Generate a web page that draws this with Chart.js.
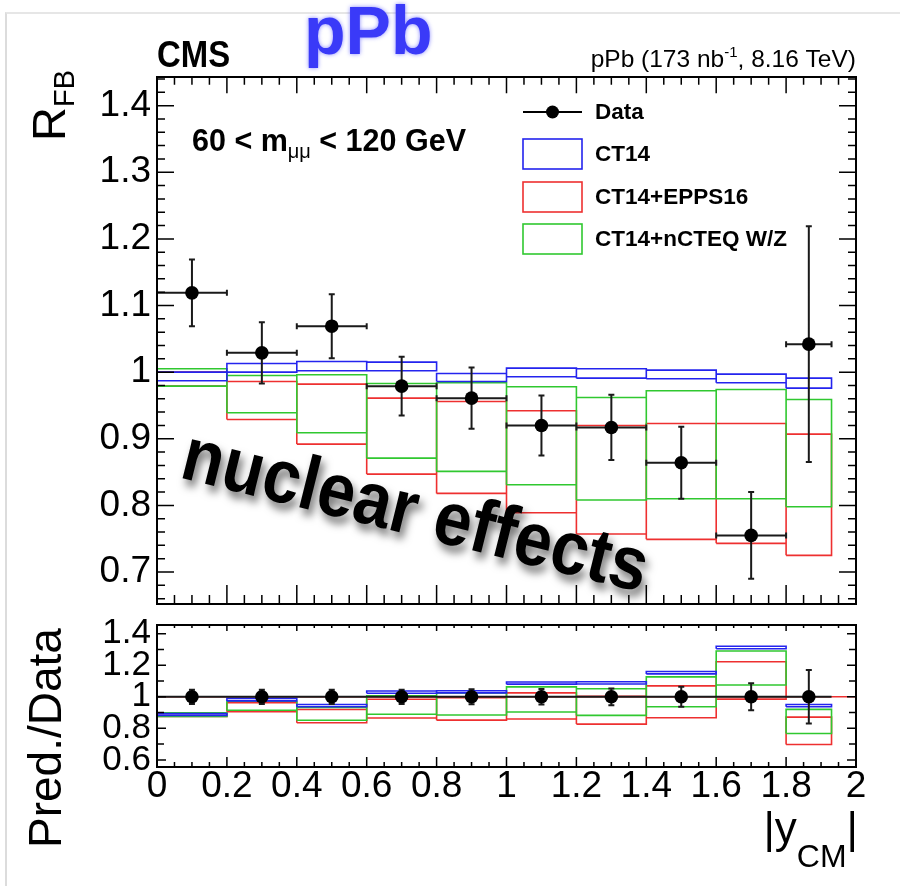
<!DOCTYPE html>
<html>
<head>
<meta charset="utf-8">
<script src="https://cdn.jsdelivr.net/npm/chart.js@4.4.1/dist/chart.umd.min.js"></script>
<style>
  html, body { margin: 0; padding: 0; background: #fff; }
  #wrap { position: relative; width: 900px; height: 886px; overflow: hidden; }
  #wrap canvas { position: absolute; left: 0; top: 0; }
  .edge { position: absolute; left: 5px; top: 12px; width: 900px; height: 900px;
          border-left: 2px solid #dcdcdc; border-top: 2px solid #e6e6e6; }
</style>
</head>
<body>
<div id="wrap">
  <div class="edge"></div>
  <canvas id="upper" width="900" height="886"></canvas>
  <canvas id="lower" width="900" height="886"></canvas>
</div>
<script>
// bins in |y_CM|
const binLo = [0.0, 0.2, 0.4, 0.6, 0.8, 1.0, 1.2, 1.4, 1.6, 1.8];
const binHi = [0.2, 0.4, 0.6, 0.8, 1.0, 1.2, 1.4, 1.6, 1.8, 1.93];
const dataX = [0.1, 0.3, 0.5, 0.7, 0.9, 1.1, 1.3, 1.5, 1.7, 1.865];

// R_FB data
const dataRFB = [1.119, 1.029, 1.069, 0.979, 0.961, 0.920, 0.917, 0.864, 0.755, 1.042];
const dataErr = [0.050, 0.046, 0.048, 0.044, 0.046, 0.045, 0.049, 0.054, 0.065, 0.177];

// theory bands (low / high edge)
const ct14Lo  = [0.987, 1.000, 1.002, 1.002, 0.986, 0.993, 0.991, 0.990, 0.984, 0.976];
const ct14Hi  = [1.000, 1.013, 1.016, 1.015, 0.998, 1.006, 1.005, 1.003, 0.997, 0.991];
const eppsLo  = [0.979, 0.929, 0.892, 0.847, 0.818, 0.789, 0.757, 0.749, 0.743, 0.725];
const eppsHi  = [1.000, 0.986, 0.982, 0.961, 0.956, 0.942, 0.920, 0.923, 0.923, 0.907];
const ncteqLo = [0.979, 0.939, 0.909, 0.871, 0.851, 0.831, 0.808, 0.810, 0.810, 0.798];
const ncteqHi = [1.005, 0.995, 0.996, 0.983, 0.984, 0.978, 0.962, 0.972, 0.974, 0.959];

// Pred./Data panel
const ratioData   = [1, 1, 1, 1, 1, 1, 1, 1, 1, 1];
const ratioErr    = [0.045, 0.045, 0.045, 0.045, 0.048, 0.049, 0.053, 0.063, 0.086, 0.170];
const rCt14Lo  = [0.882, 0.974, 0.937, 1.022, 1.025, 1.080, 1.081, 1.145, 1.304, 0.937];
const rCt14Hi  = [0.894, 0.990, 0.951, 1.037, 1.038, 1.094, 1.095, 1.160, 1.320, 0.951];
const rEppsLo  = [0.875, 0.905, 0.835, 0.866, 0.852, 0.859, 0.827, 0.867, 0.985, 0.698];
const rEppsHi  = [0.894, 0.962, 0.919, 0.984, 0.994, 1.025, 1.003, 1.069, 1.222, 0.871];
const rNcteqLo = [0.875, 0.915, 0.851, 0.889, 0.885, 0.904, 0.882, 0.937, 1.075, 0.767];
const rNcteqHi = [0.898, 0.972, 0.932, 1.006, 1.025, 1.063, 1.051, 1.126, 1.290, 0.920];

// tick labels
const xTickLabels     = [0, 0.2, 0.4, 0.6, 0.8, 1, 1.2, 1.4, 1.6, 1.8, 2];
const upperYTicks     = [0.7, 0.8, 0.9, 1, 1.1, 1.2, 1.3, 1.4];
const lowerYTicks     = [0.6, 0.8, 1, 1.2, 1.4];

const BLUE = '#2424ee', RED = '#ee3030', GREEN = '#30c830';
const FONT = "'Liberation Sans', Arial, Helvetica, sans-serif";
Chart.defaults.font.family = FONT;
Chart.defaults.color = '#000';

const fmt = v => String(Number(v.toFixed(2)));

function boxDataset(label, lo, hi, color, order) {
  const pts = [];
  lo.forEach((l, i) => {
    const a = binLo[i], b = binHi[i], h = hi[i];
    pts.push({x: a, y: l}, {x: b, y: l}, {x: b, y: h}, {x: a, y: h}, {x: a, y: l}, {x: a, y: null});
  });
  return {
    label, data: pts, showLine: true, borderColor: color, backgroundColor: color,
    borderWidth: 1.6, pointRadius: 0, fill: false, tension: 0, spanGaps: false,
    borderJoinStyle: 'miter', order
  };
}

// error bars drawn just under the markers
const errorBars = {
  id: 'errorBars',
  beforeDatasetDraw(chart, args) {
    const ds = chart.data.datasets[args.index];
    if (!ds.yErr) return;
    const {ctx, scales: {x, y}} = chart;
    ctx.save();
    ctx.strokeStyle = '#1a1a1a';
    ctx.lineWidth = 2;
    ctx.beginPath();
    ds.data.forEach((p, i) => {
      const px = x.getPixelForValue(p.x), py = y.getPixelForValue(p.y);
      const t = y.getPixelForValue(p.y + ds.yErr[i]), b = y.getPixelForValue(p.y - ds.yErr[i]);
      ctx.moveTo(px, t); ctx.lineTo(px, b);
      ctx.moveTo(px - 3, t); ctx.lineTo(px + 3, t);
      ctx.moveTo(px - 3, b); ctx.lineTo(px + 3, b);
      const l = x.getPixelForValue(binLo[i]), r = x.getPixelForValue(binHi[i]);
      ctx.moveTo(l, py); ctx.lineTo(r, py);
      if (ds.xCaps) {
        ctx.moveTo(l, py - 3); ctx.lineTo(l, py + 3);
        ctx.moveTo(r, py - 3); ctx.lineTo(r, py + 3);
      }
    });
    ctx.stroke();
    ctx.restore();
  }
};

function drawFrame(chart, t) {
  const {ctx, chartArea: a, scales: {x, y}} = chart;
  ctx.save();
  ctx.strokeStyle = '#000';
  ctx.lineWidth = 1.5;
  ctx.beginPath();
  const isMajor = (v, m) => Math.abs(v / m - Math.round(v / m)) < 1e-6;
  for (let k = Math.ceil(x.min / t.xMinor - 1e-6); k * t.xMinor <= x.max + 1e-9; k++) {
    const v = k * t.xMinor, px = x.getPixelForValue(v);
    const L = isMajor(v, t.xMajor) ? t.xLen[1] : t.xLen[0];
    ctx.moveTo(px, a.bottom); ctx.lineTo(px, a.bottom - L);
    ctx.moveTo(px, a.top); ctx.lineTo(px, a.top + L * t.topScale);
  }
  for (let k = Math.ceil(y.min / t.yMinor - 1e-6); k * t.yMinor <= y.max + 1e-9; k++) {
    const v = k * t.yMinor, py = y.getPixelForValue(v);
    const L = isMajor(v, t.yMajor) ? t.yLen[1] : t.yLen[0];
    ctx.moveTo(a.left, py); ctx.lineTo(a.left + L, py);
    ctx.moveTo(a.right, py); ctx.lineTo(a.right - L, py);
  }
  ctx.stroke();
  ctx.lineWidth = 2;
  ctx.strokeRect(a.left, a.top, a.right - a.left, a.bottom - a.top);
  ctx.restore();
}

// text with a lowered / raised part: parts = [[text, font, dy], ...]
function richText(ctx, x, y, parts) {
  let cx = x;
  parts.forEach(([txt, font, dy]) => {
    ctx.font = font;
    ctx.fillText(txt, cx, y + dy);
    cx += ctx.measureText(txt).width;
  });
  return cx;
}
function richWidth(ctx, parts) {
  return parts.reduce((w, [txt, font]) => { ctx.font = font; return w + ctx.measureText(txt).width; }, 0);
}

const upperDecor = {
  id: 'upperDecor',
  afterDraw(chart) {
    drawFrame(chart, {xMinor: 0.05, xMajor: 0.2, xLen: [9, 19], topScale: 0.85,
                      yMinor: 0.02, yMajor: 0.1, yLen: [8, 17]});
    const ctx = chart.ctx;
    ctx.save();
    ctx.fillStyle = '#000';
    ctx.textBaseline = 'alphabetic';
    ctx.textAlign = 'left';

    // CMS label and lumi text
    ctx.save();
    ctx.translate(157, 67);
    ctx.scale(0.94, 1.05);
    ctx.font = `bold 35px ${FONT}`;
    ctx.fillText('CMS', 0, 0);
    ctx.restore();
    const lumi = [['pPb (173 nb', `24.5px ${FONT}`, 0], ['-1', `15px ${FONT}`, -10], [', 8.16 TeV)', `24.5px ${FONT}`, 0]];
    richText(ctx, 856 - richWidth(ctx, lumi), 67, lumi);

    // big pPb
    ctx.save();
    ctx.fillStyle = '#3a3af8';
    ctx.shadowColor = 'rgba(60,60,255,0.6)';
    ctx.shadowBlur = 4;
    ctx.font = `bold 68px ${FONT}`;
    ctx.fillText('pPb', 304, 54);
    ctx.restore();

    // mass window
    richText(ctx, 192, 151, [['60 < m', `bold 30.5px ${FONT}`, 0], ['\u03bc\u03bc', `20px ${FONT}`, 7], [' < 120 GeV', `bold 30.5px ${FONT}`, 0]]);

    // y title R_FB
    ctx.save();
    ctx.translate(65, 141);
    ctx.rotate(-Math.PI / 2);
    richText(ctx, 0, 0, [['R', `47px ${FONT}`, 0], ['FB', `29px ${FONT}`, 9]]);
    ctx.restore();

    // legend
    const ds = chart.data.datasets;
    const lx0 = 523, lx1 = 582, tx = 595;
    const rows = [112, 154, 197, 239];
    ctx.font = `bold 22.5px ${FONT}`;
    ctx.textBaseline = 'middle';
    const dataDs = ds.find(d => d.yErr);
    ctx.strokeStyle = '#000';
    ctx.lineWidth = 2;
    ctx.beginPath(); ctx.moveTo(lx0, rows[0]); ctx.lineTo(lx1, rows[0]); ctx.stroke();
    ctx.beginPath(); ctx.arc((lx0 + lx1) / 2, rows[0], 6.5, 0, 2 * Math.PI); ctx.fill();
    ctx.fillText(dataDs.label, tx, rows[0] + 1);
    ds.filter(d => !d.yErr).sort((a, b) => a.legendRank - b.legendRank).forEach((d, i) => {
      const cy = rows[i + 1];
      ctx.strokeStyle = d.borderColor;
      ctx.lineWidth = 1.6;
      ctx.strokeRect(lx0, cy - 15, lx1 - lx0, 30);
      ctx.fillText(d.label, tx, cy + 1);
    });

    // nuclear effects
    ctx.save();
    ctx.translate(178, 477);
    ctx.rotate(14 * Math.PI / 180);
    ctx.scale(0.98, 1.1);
    ctx.textBaseline = 'alphabetic';
    ctx.font = `bold 69px ${FONT}`;
    ctx.shadowColor = 'rgba(0,0,0,0.55)';
    ctx.shadowBlur = 9;
    ctx.shadowOffsetX = 3;
    ctx.shadowOffsetY = 7;
    ctx.fillStyle = '#000';
    ctx.fillText('nuclear effects', 0, 0);
    ctx.restore();

    ctx.restore();
  }
};

const lowerDecor = {
  id: 'lowerDecor',
  beforeDatasetsDraw(chart) {
    const {ctx, chartArea: a, scales: {y}} = chart;
    const py = y.getPixelForValue(1);
    ctx.save();
    ctx.strokeStyle = RED;
    ctx.lineWidth = 1.5;
    ctx.beginPath(); ctx.moveTo(a.left, py); ctx.lineTo(a.right, py); ctx.stroke();
    ctx.restore();
  },
  afterDraw(chart) {
    drawFrame(chart, {xMinor: 0.05, xMajor: 0.2, xLen: [5, 10], topScale: 0.6,
                      yMinor: 0.1, yMajor: 0.2, yLen: [7, 9]});
    const ctx = chart.ctx;
    ctx.save();
    ctx.fillStyle = '#000';
    ctx.textBaseline = 'alphabetic';
    // Pred./Data
    ctx.save();
    ctx.translate(61, 848);
    ctx.rotate(-Math.PI / 2);
    ctx.font = `46px ${FONT}`;
    ctx.fillText('Pred./Data', 0, 0);
    ctx.restore();
    // |y_CM|
    const parts = [['|y', `44px ${FONT}`, 0], ['CM', `32px ${FONT}`, 24], ['|', `44px ${FONT}`, 0]];
    richText(ctx, 858 - richWidth(ctx, parts), 843, parts);
    ctx.restore();
  }
};

const commonScaleY = (ticksArr, size, width) => ({
  type: 'linear',
  afterFit(s) { s.width = width; },
  afterBuildTicks(s) { s.ticks = ticksArr.map(v => ({value: v})); },
  ticks: { font: {size, lineHeight: 1}, color: '#000', padding: 6, autoSkip: false, callback: v => fmt(v) },
  grid: { display: false, drawTicks: false },
  border: { display: false }
});

// upper panel
new Chart(document.getElementById('upper'), {
  type: 'scatter',
  data: {
    datasets: [
      {
        label: 'Data',
        data: dataX.map((x, i) => ({x, y: dataRFB[i]})),
        yErr: dataErr, xCaps: true,
        pointRadius: 6.8, pointBackgroundColor: '#000', pointBorderColor: '#000', pointBorderWidth: 0,
        showLine: false, order: 0
      },
      Object.assign(boxDataset('CT14', ct14Lo, ct14Hi, BLUE, 1), {legendRank: 0}),
      Object.assign(boxDataset('CT14+EPPS16', eppsLo, eppsHi, RED, 3), {legendRank: 1}),
      Object.assign(boxDataset('CT14+nCTEQ W/Z', ncteqLo, ncteqHi, GREEN, 2), {legendRank: 2})
    ]
  },
  options: {
    responsive: false, animation: false, events: [],
    layout: { padding: { left: 0, right: 44, top: 77, bottom: 282 } },
    plugins: { legend: { display: false }, tooltip: { enabled: false } },
    scales: {
      x: { type: 'linear', min: 0, max: 2, display: false },
      y: Object.assign(commonScaleY(upperYTicks, 37, 157), { min: 0.652, max: 1.443 })
    }
  },
  plugins: [errorBars, upperDecor]
});

// lower panel
new Chart(document.getElementById('lower'), {
  type: 'scatter',
  data: {
    datasets: [
      {
        label: 'Data',
        data: dataX.map((x, i) => ({x, y: ratioData[i]})),
        yErr: ratioErr, xCaps: false,
        pointRadius: 6.8, pointBackgroundColor: '#000', pointBorderColor: '#000', pointBorderWidth: 0,
        showLine: false, order: 0
      },
      boxDataset('CT14', rCt14Lo, rCt14Hi, BLUE, 1),
      boxDataset('CT14+EPPS16', rEppsLo, rEppsHi, RED, 3),
      boxDataset('CT14+nCTEQ W/Z', rNcteqLo, rNcteqHi, GREEN, 2)
    ]
  },
  options: {
    responsive: false, animation: false, events: [],
    layout: { padding: { left: 0, right: 44, top: 625, bottom: 74 } },
    plugins: { legend: { display: false }, tooltip: { enabled: false } },
    scales: {
      x: {
        type: 'linear', min: 0, max: 2, position: 'bottom',
        afterFit(s) { s.height = 45; },
        afterBuildTicks(s) { s.ticks = xTickLabels.map(v => ({value: v})); },
        ticks: { font: {size: 37, lineHeight: 1}, color: '#000', padding: 1, autoSkip: false, maxRotation: 0, callback: v => fmt(v) },
        grid: { display: false, drawTicks: false },
        border: { display: false }
      },
      y: Object.assign(commonScaleY(lowerYTicks, 35, 157), { min: 0.555, max: 1.455 })
    }
  },
  plugins: [errorBars, lowerDecor]
});
</script>
</body>
</html>
